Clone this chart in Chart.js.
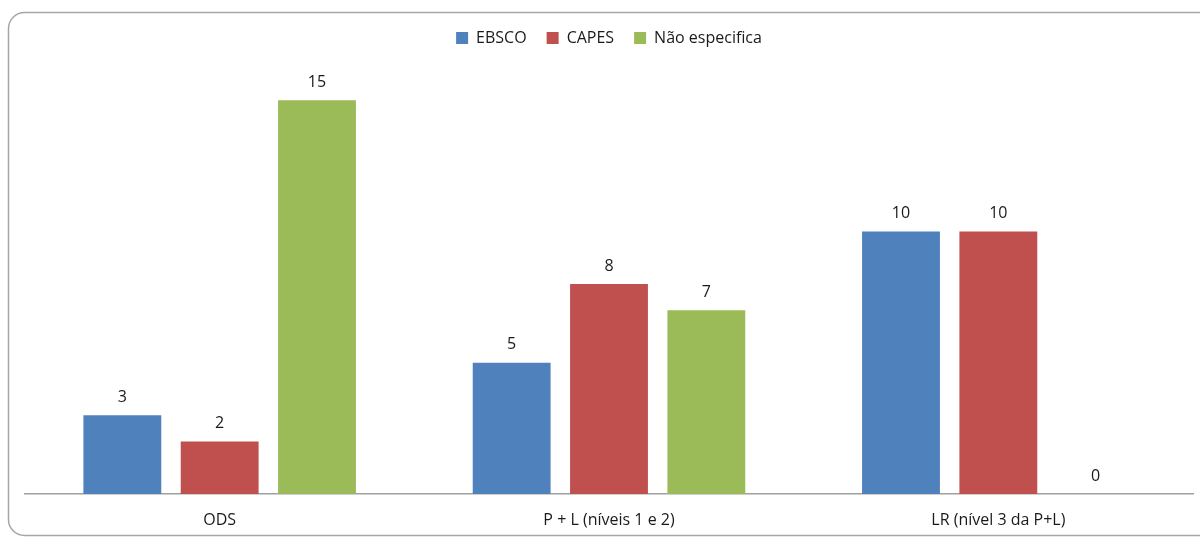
<!DOCTYPE html>
<html>
<head>
<meta charset="utf-8">
<script src="https://cdn.jsdelivr.net/npm/chart.js@4"></script>
<style>
  html, body { margin: 0; padding: 0; background: #ffffff; }
  #wrap { width: 1200px; height: 538px; }
</style>
</head>
<body>
<div id="wrap"><canvas id="c" width="1200" height="538"></canvas></div>
<script>
const categories = ['ODS', 'P + L (níveis 1 e 2)', 'LR (nível 3 da P+L)'];
const seriesNames = ['EBSCO', 'CAPES', 'Não especifica'];
const ebsco = [3, 5, 10];
const capes = [2, 8, 10];
const naoEspecifica = [15, 7, 0];
const colors = ['#4F81BD', '#C0504D', '#9BBB59'];

const FONT = '"Open Sans", sans-serif';

// Rounded frame around the whole chart
const framePlugin = {
  id: 'frame',
  beforeDraw(chart) {
    const ctx = chart.ctx;
    const x = 8.5, y = 12.5, w = 1230, h = 523, r = 16;
    ctx.save();
    ctx.strokeStyle = '#A6A6A6';
    ctx.lineWidth = 1.5;
    ctx.beginPath();
    ctx.moveTo(x + r, y);
    ctx.lineTo(x + w - r, y);
    ctx.arcTo(x + w, y, x + w, y + r, r);
    ctx.lineTo(x + w, y + h - r);
    ctx.arcTo(x + w, y + h, x + w - r, y + h, r);
    ctx.lineTo(x + r, y + h);
    ctx.arcTo(x, y + h, x, y + h - r, r);
    ctx.lineTo(x, y + r);
    ctx.arcTo(x, y, x + r, y, r);
    ctx.closePath();
    ctx.stroke();
    ctx.restore();
  }
};

// Extra space between the legend and the plot
const legendGap = {
  id: 'legendGap',
  beforeInit(chart) {
    const fit = chart.legend.fit;
    chart.legend.fit = function () {
      fit.call(this);
      this.height += 18;
    };
  }
};

// Value labels above each bar
const valueLabels = {
  id: 'valueLabels',
  afterDatasetsDraw(chart) {
    const ctx = chart.ctx;
    ctx.save();
    ctx.font = '16px ' + FONT;
    ctx.fillStyle = '#1a1a1a';
    ctx.textAlign = 'center';
    ctx.textBaseline = 'bottom';
    chart.data.datasets.forEach((ds, i) => {
      const meta = chart.getDatasetMeta(i);
      meta.data.forEach((bar, j) => {
        ctx.fillText(String(ds.data[j]), bar.x, bar.y - 10);
      });
    });
    ctx.restore();
  }
};

new Chart(document.getElementById('c'), {
  type: 'bar',
  data: {
    labels: categories,
    datasets: [
      { label: seriesNames[0], data: ebsco, backgroundColor: colors[0] },
      { label: seriesNames[1], data: capes, backgroundColor: colors[1] },
      { label: seriesNames[2], data: naoEspecifica, backgroundColor: colors[2] }
    ]
  },
  options: {
    responsive: false,
    animation: false,
    layout: { padding: { left: 25, right: 7, top: 10, bottom: 0 } },
    categoryPercentage: 0.75,
    barPercentage: 0.8,
    plugins: {
      legend: {
        position: 'top',
        labels: {
          font: { family: FONT, size: 16 },
          color: '#1a1a1a',
          boxWidth: 12,
          boxHeight: 12,
          padding: 20
        }
      },
      tooltip: { enabled: false }
    },
    scales: {
      x: {
        grid: { display: false, drawTicks: false },
        border: { color: '#A0A0A0', width: 1.5 },
        ticks: { font: { family: FONT, size: 16 }, color: '#1a1a1a', padding: 17 },
        afterFit(scale) { scale.height = 44; }
      },
      y: {
        display: false,
        min: 0,
        max: 16
      }
    }
  },
  plugins: [framePlugin, legendGap, valueLabels]
});
</script>
</body>
</html>
